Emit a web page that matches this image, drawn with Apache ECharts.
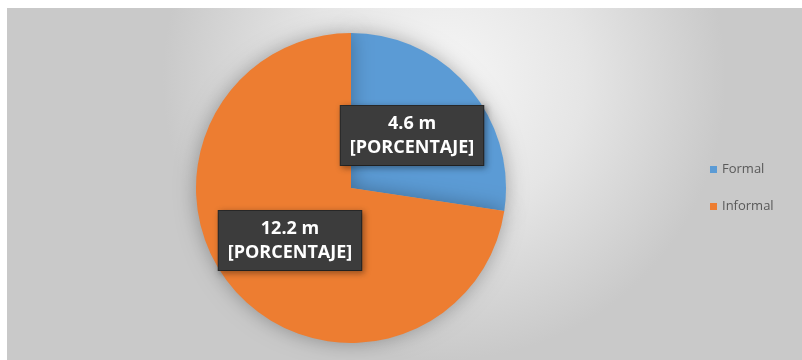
<!DOCTYPE html>
<html>
<head>
<meta charset="utf-8">
<script src="https://cdn.jsdelivr.net/npm/echarts@6/dist/echarts.min.js"></script>
<style>
  html, body { margin: 0; padding: 0; background: #ffffff; }
  #chart { width: 802px; height: 360px; }
</style>
</head>
<body>
<div id="chart"></div>
<script>
// Employment split (millions)
const categories = ['Formal', 'Informal'];
const values = [4.6, 12.2];
const sliceColors = ['#5B9BD5', '#ED7D31'];

const chart = echarts.init(document.getElementById('chart'), null, { renderer: 'canvas' });

const data = categories.map((name, i) => ({
  name: name,
  value: values[i],
  itemStyle: { color: sliceColors[i] }
}));

chart.setOption({
  backgroundColor: '#ffffff',
  animation: false,
  graphic: [{
    type: 'rect',
    z: -10,
    silent: true,
    shape: { x: 7, y: 8, width: 795, height: 352 },
    style: {
      fill: {
        type: 'radial', x: 0.55, y: 0.2, r: 0.8,
        colorStops: [
          { offset: 0, color: '#f6f6f6' },
          { offset: 0.5, color: '#e5e5e5' },
          { offset: 1, color: '#c9c9c9' }
        ]
      }
    }
  }],
  legend: {
    orient: 'vertical',
    left: 705,
    top: 158,
    itemWidth: 7,
    itemHeight: 7,
    itemGap: 24,
    icon: 'rect',
    textStyle: { color: '#595959', fontSize: 13, fontFamily: 'Open Sans' },
    data: categories
  },
  series: [{
    type: 'pie',
    center: [351, 188],
    radius: [0, 155],
    startAngle: 90,
    clockwise: true,
    data: data,
    itemStyle: {
      borderWidth: 0,
      shadowBlur: 20,
      shadowColor: 'rgba(0,0,0,0.3)'
    },
    label: {
      show: true,
      position: 'inside',
      formatter: '{c} m\n[PORCENTAJE]',
      color: '#ffffff',
      fontFamily: 'Open Sans',
      fontWeight: 'bold',
      fontSize: 18,
      lineHeight: 24,
      backgroundColor: '#3c3c3c',
      borderColor: '#2a2a2a',
      borderWidth: 1,
      padding: [6, 9, 5, 9],
      shadowBlur: 6,
      shadowColor: 'rgba(0,0,0,0.35)',
      shadowOffsetX: 2,
      shadowOffsetY: 2
    },
    labelLine: { show: false },
    emphasis: { disabled: true }
  }]
});
</script>
</body>
</html>
